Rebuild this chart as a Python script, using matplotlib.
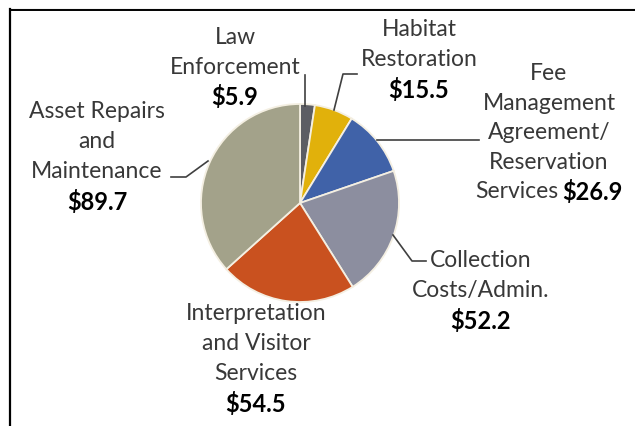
import matplotlib
matplotlib.use('Agg')
import matplotlib.pyplot as plt

# recreation budget pie (values in $ millions)
labels = ['Law Enforcement', 'Habitat Restoration',
          'Fee Management Agreement/Reservation Services',
          'Collection Costs/Admin.', 'Interpretation and Visitor Services',
          'Asset Repairs and Maintenance']
values = [5.9, 15.5, 26.9, 52.2, 54.5, 89.7]
colors = ['#5c5d63', '#e1b10b', '#4062a8', '#8c8e9f', '#c9511f', '#a3a28a']

W, H = 635, 427
TXT = '#383838'
FS = 16.5
FSB = 17
plt.rcParams['font.family'] = ['Lato', 'DejaVu Sans']

fig = plt.figure(figsize=(W / 100, H / 100), dpi=100)
ax = fig.add_axes([0, 0, 1, 1])

# y is flipped below, so start at -90 and go counterclockwise in data = clockwise on screen
ax.pie(values, colors=colors, startangle=-90, counterclock=True,
       center=(300, 204), radius=99, frame=True,
       wedgeprops=dict(edgecolor='#f4efe2', linewidth=1.3))
ax.set_xlim(0, W)
ax.set_ylim(H, 0)  # pixel-like coords, y down
ax.axis('off')

# frame lines (only top and left visible in the crop)
ax.plot([9.5, W], [9.5, 9.5], color='#c8c8c8', lw=1, zorder=1)
ax.plot([9.5, W], [10.5, 10.5], color='black', lw=1.4)
ax.plot([9.5, 9.5], [10, H], color='black', lw=1.6)


def block(x, y0, lines):
    # lines: list of (text, bold)
    for i, (t, b) in enumerate(lines):
        ax.text(x, y0 + i * 30, t, ha='center', va='center',
                fontsize=FSB if b else FS,
                color='black' if b else TXT,
                fontweight='bold' if b else 'normal')


def money(v):
    return '\\$' + f'{v}'


block(235, 37, [('Law', 0), ('Enforcement', 0), (money(values[0]), 1)])
block(419, 30, [('Habitat', 0), ('Restoration', 0), (money(values[1]), 1)])
block(549, 73, [('Fee', 0), ('Management', 0), ('Agreement/', 0), ('Reservation', 0)])
ax.text(558, 192, 'Services', ha='right', va='center', fontsize=FS, color=TXT)
ax.text(562, 192, money(values[2]), ha='left', va='center', fontsize=FSB,
        color='black', fontweight='bold')
block(481, 261, [('Collection', 0), ('Costs/Admin.', 0), (money(values[3]), 1)])
block(256, 314, [('Interpretation', 0), ('and Visitor', 0), ('Services', 0),
                 (money(values[4]), 1)])
block(97, 112, [('Asset Repairs', 0), ('and', 0), ('Maintenance', 0),
                (money(values[5]), 1)])

# leader lines
lc = '#404040'
ax.plot([305, 305], [107, 76], color=lc, lw=1.2)
ax.plot([334, 343, 357], [111, 75, 75], color=lc, lw=1.2)
ax.plot([377, 479], [141, 141], color=lc, lw=1.2)
ax.plot([393, 412, 426], [236, 262, 262], color=lc, lw=1.2)
ax.plot([208, 186, 171], [162, 178, 178], color=lc, lw=1.2)

fig.savefig('out.png', dpi=100, facecolor='white')
